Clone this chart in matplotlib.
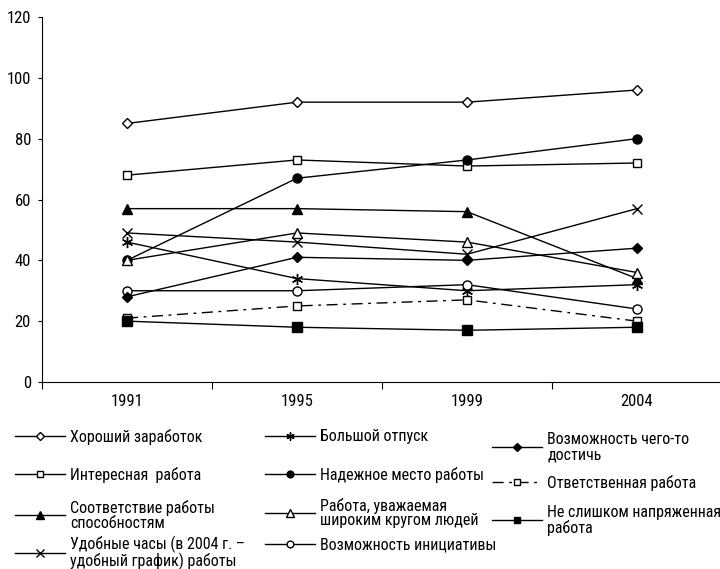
import matplotlib
matplotlib.use("Agg")
import matplotlib.pyplot as plt
from matplotlib import font_manager as fm

names = {f.name for f in fm.fontManager.ttflist}
fam = "Liberation Sans"
for cand in ["Liberation Sans Narrow", "Arial Narrow", "Roboto Condensed", "PT Sans Narrow",
             "IBM Plex Sans Condensed", "Fira Sans Condensed", "Open Sans Condensed"]:
    if cand in names:
        fam = cand
        break
plt.rcParams['font.family'] = [fam, 'DejaVu Sans']

years = ["1991", "1995", "1999", "2004"]

good_pay = [85, 92, 92, 96]
interesting = [68, 73, 71, 72]
abilities = [57, 57, 56, 34]
hours = [49, 46, 42, 57]
vacation = [46, 34, 30, 32]
reliable = [40, 67, 73, 80]
respected = [40, 49, 46, 36]
initiative = [30, 30, 32, 24]
achieve = [28, 41, 40, 44]
responsible = [21, 25, 27, 20]
not_stressful = [20, 18, 17, 18]

labels = [
    "Хороший заработок",
    "Интересная  работа",
    "Соответствие работы\nспособностям",
    "Удобные часы (в 2004 г. –\nудобный график) работы",
    "Большой отпуск",
    "Надежное место работы",
    "Работа, уважаемая\nшироким кругом людей",
    "Возможность инициативы",
    "Возможность чего-то\nдостичь",
    "Ответственная работа",
    "Не слишком напряженная\nработа",
]
values = [good_pay, interesting, abilities, hours, vacation, reliable, respected,
          initiative, achieve, responsible, not_stressful]
styles = [
    dict(marker='D', mfc='white', ms=5),
    dict(marker='s', mfc='white', ms=6),
    dict(marker='^', mfc='black', ms=7),
    dict(marker='x', ms=7),
    dict(marker=(6, 2, 0), ms=8),
    dict(marker='o', mfc='black', ms=6.5),
    dict(marker='^', mfc='white', ms=7),
    dict(marker='o', mfc='white', ms=6.5),
    dict(marker='D', mfc='black', ms=5),
    dict(marker='s', mfc='white', ms=6, ls=(0, (8, 4, 2, 4))),
    dict(marker='s', mfc='black', ms=6.5),
]

# legend entry anchors (pixels: handle start x, entry centre y)
legend_pos = [(15, 437), (15, 475), (15, 515), (15, 553),
              (265, 437), (265, 475), (265, 513), (265, 545),
              (492, 447), (492, 483), (492, 520)]

W, H = 720, 569
fig = plt.figure(figsize=(W / 100, H / 100), dpi=100)
ax = fig.add_axes([42 / W, 1 - 382 / H, 680 / W, 365 / H])
x = list(range(len(years)))
lines = []
for label, vals, st in zip(labels, values, styles):
    kw = dict(color='black', lw=1.0, mec='black', mew=1.0)
    kw.update(st)
    ln, = ax.plot(x, vals, label=label, **kw)
    lines.append(ln)

ax.set_ylim(0, 120)
ax.set_yticks([0, 20, 40, 60, 80, 100, 120])
ax.set_xlim(-0.5, 3.5)
ax.set_xticks([-0.5, 0.5, 1.5, 2.5, 3.5])
ax.set_xticklabels([])
ax.set_xticks(x, minor=True)
ax.set_xticklabels(years, minor=True)
ax.tick_params(axis='x', which='minor', length=0, pad=9, labelsize=12)
ax.tick_params(axis='x', which='major', length=5, direction='out')
ax.tick_params(axis='y', length=3, direction='out', labelsize=12, pad=5)
for s in ['top', 'right']:
    ax.spines[s].set_visible(False)

for ln, lab, (px, py) in zip(lines, labels, legend_pos):
    leg = fig.legend(handles=[ln], labels=[lab], loc='center left',
                     bbox_to_anchor=(px / W, 1 - py / H), frameon=False,
                     fontsize=11.5, handlelength=3.1, handletextpad=0.35,
                     borderpad=0, borderaxespad=0, markerscale=0.75)
    for t in leg.get_texts():
        t.set_linespacing(1.0)

fig.savefig("out.png", dpi=100)
